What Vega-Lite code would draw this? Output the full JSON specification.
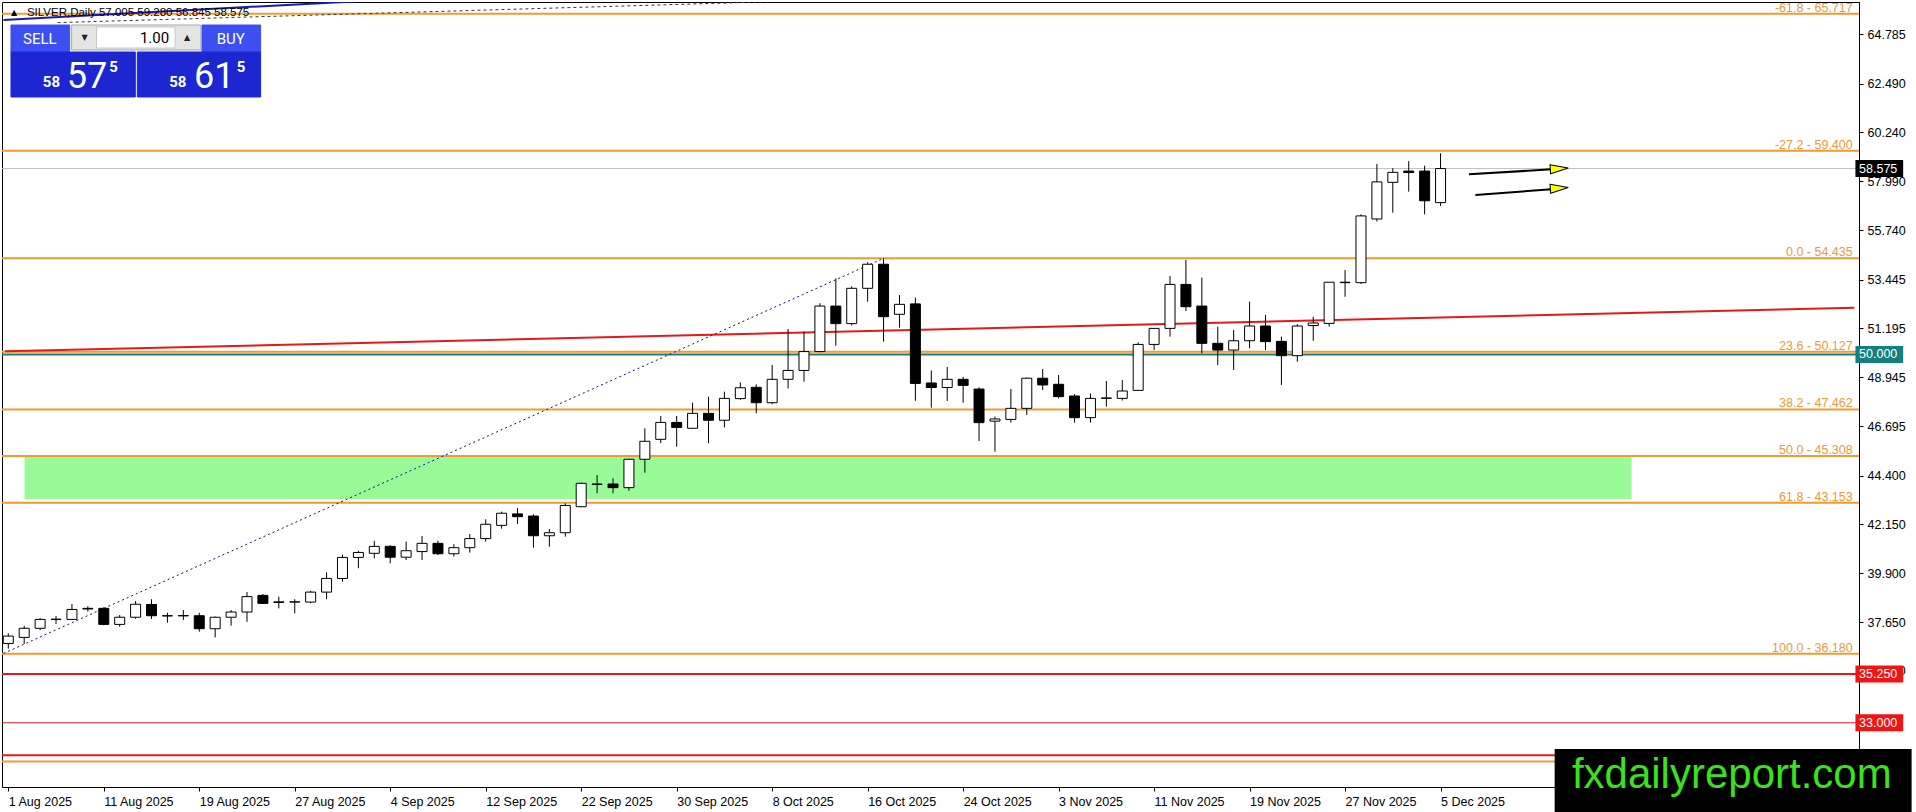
{
  "$schema": "https://vega.github.io/schema/vega-lite/v6.json",
  "width": 1857,
  "height": 785,
  "autosize": "none",
  "padding": {"left": 2, "top": 2, "right": 57, "bottom": 25},
  "background": "white",
  "config": {
    "view": {"stroke": "black", "strokeWidth": 1},
    "font": "Liberation Sans",
    "axis": {"labelFont": "Liberation Sans", "labelFontSize": 12.5, "labelColor": "black", "domainColor": "black", "tickColor": "black", "grid": false, "title": null}
  },
  "datasets": {
    "bars": [
      {"i":0,"o":36.66,"h":37.13,"l":36.43,"c":37.0},
      {"i":1,"o":36.94,"h":37.47,"l":36.64,"c":37.36},
      {"i":2,"o":37.36,"h":37.83,"l":37.28,"c":37.77},
      {"i":3,"o":37.77,"h":37.93,"l":37.56,"c":37.78},
      {"i":4,"o":37.77,"h":38.48,"l":37.74,"c":38.23},
      {"i":5,"o":38.28,"h":38.38,"l":38.13,"c":38.25},
      {"i":6,"o":38.28,"h":38.33,"l":37.5,"c":37.54},
      {"i":7,"o":37.54,"h":37.97,"l":37.43,"c":37.87},
      {"i":8,"o":37.87,"h":38.62,"l":37.8,"c":38.47},
      {"i":9,"o":38.46,"h":38.7,"l":37.79,"c":37.94},
      {"i":10,"o":37.94,"h":38.08,"l":37.62,"c":37.93},
      {"i":11,"o":37.93,"h":38.2,"l":37.74,"c":37.95},
      {"i":12,"o":37.94,"h":38.08,"l":37.2,"c":37.34},
      {"i":13,"o":37.34,"h":37.9,"l":36.94,"c":37.87},
      {"i":14,"o":37.87,"h":38.2,"l":37.48,"c":38.11},
      {"i":15,"o":38.11,"h":39.03,"l":37.66,"c":38.82},
      {"i":16,"o":38.88,"h":38.94,"l":38.48,"c":38.51},
      {"i":17,"o":38.58,"h":38.82,"l":38.28,"c":38.55},
      {"i":18,"o":38.57,"h":38.7,"l":38.05,"c":38.58},
      {"i":19,"o":38.57,"h":39.09,"l":38.51,"c":39.03},
      {"i":20,"o":39.03,"h":39.94,"l":38.7,"c":39.66},
      {"i":21,"o":39.66,"h":40.76,"l":39.51,"c":40.63},
      {"i":22,"o":40.63,"h":40.94,"l":40.13,"c":40.86},
      {"i":23,"o":40.82,"h":41.4,"l":40.59,"c":41.14},
      {"i":24,"o":41.14,"h":41.2,"l":40.36,"c":40.64},
      {"i":25,"o":40.64,"h":41.36,"l":40.51,"c":40.94},
      {"i":26,"o":40.9,"h":41.62,"l":40.51,"c":41.28},
      {"i":27,"o":41.28,"h":41.4,"l":40.74,"c":40.8},
      {"i":28,"o":40.8,"h":41.24,"l":40.67,"c":41.08},
      {"i":29,"o":41.08,"h":41.71,"l":40.85,"c":41.5},
      {"i":30,"o":41.5,"h":42.39,"l":41.36,"c":42.16},
      {"i":31,"o":42.11,"h":42.74,"l":41.96,"c":42.67},
      {"i":32,"o":42.64,"h":42.91,"l":42.17,"c":42.51},
      {"i":33,"o":42.54,"h":42.62,"l":41.08,"c":41.63},
      {"i":34,"o":41.63,"h":41.94,"l":41.13,"c":41.77},
      {"i":35,"o":41.77,"h":43.13,"l":41.59,"c":43.03},
      {"i":36,"o":42.97,"h":44.08,"l":42.95,"c":44.05},
      {"i":37,"o":44.0,"h":44.43,"l":43.59,"c":44.02},
      {"i":38,"o":44.02,"h":44.28,"l":43.59,"c":43.85},
      {"i":39,"o":43.85,"h":45.18,"l":43.71,"c":45.16},
      {"i":40,"o":45.16,"h":46.59,"l":44.54,"c":45.99},
      {"i":41,"o":46.08,"h":47.16,"l":45.9,"c":46.86},
      {"i":42,"o":46.86,"h":47.16,"l":45.74,"c":46.63},
      {"i":43,"o":46.59,"h":47.77,"l":46.59,"c":47.28},
      {"i":44,"o":47.28,"h":48.05,"l":45.9,"c":46.96},
      {"i":45,"o":46.96,"h":48.28,"l":46.63,"c":47.97},
      {"i":46,"o":47.96,"h":48.71,"l":47.9,"c":48.46},
      {"i":47,"o":48.48,"h":48.62,"l":47.28,"c":47.77},
      {"i":48,"o":47.77,"h":49.51,"l":47.7,"c":48.85},
      {"i":49,"o":48.85,"h":51.17,"l":48.43,"c":49.26},
      {"i":50,"o":49.26,"h":51.05,"l":48.74,"c":50.13},
      {"i":51,"o":50.13,"h":52.36,"l":50.1,"c":52.23},
      {"i":52,"o":52.23,"h":53.51,"l":50.4,"c":51.42},
      {"i":53,"o":51.42,"h":53.14,"l":51.33,"c":53.05},
      {"i":54,"o":53.05,"h":54.25,"l":52.43,"c":54.16},
      {"i":55,"o":54.16,"h":54.435,"l":50.59,"c":51.74},
      {"i":56,"o":51.85,"h":52.74,"l":51.23,"c":52.31},
      {"i":57,"o":52.33,"h":52.62,"l":47.86,"c":48.66},
      {"i":58,"o":48.68,"h":49.26,"l":47.54,"c":48.47},
      {"i":59,"o":48.47,"h":49.42,"l":47.85,"c":48.85},
      {"i":60,"o":48.85,"h":48.96,"l":47.77,"c":48.57},
      {"i":61,"o":48.4,"h":48.48,"l":46.0,"c":46.85},
      {"i":62,"o":46.92,"h":47.13,"l":45.51,"c":47.02},
      {"i":63,"o":47.0,"h":48.4,"l":46.85,"c":47.51},
      {"i":64,"o":47.51,"h":48.93,"l":47.2,"c":48.9},
      {"i":65,"o":48.9,"h":49.33,"l":48.36,"c":48.59},
      {"i":66,"o":48.62,"h":49.05,"l":47.97,"c":48.05},
      {"i":67,"o":48.08,"h":48.17,"l":46.85,"c":47.08},
      {"i":68,"o":47.08,"h":48.2,"l":46.85,"c":47.97},
      {"i":69,"o":47.97,"h":48.77,"l":47.59,"c":47.99},
      {"i":70,"o":47.97,"h":48.82,"l":47.87,"c":48.31},
      {"i":71,"o":48.34,"h":50.56,"l":48.33,"c":50.46},
      {"i":72,"o":50.46,"h":51.2,"l":50.2,"c":51.2},
      {"i":73,"o":51.2,"h":53.62,"l":50.82,"c":53.23},
      {"i":74,"o":53.23,"h":54.36,"l":52.0,"c":52.2},
      {"i":75,"o":52.23,"h":53.54,"l":50.05,"c":50.51},
      {"i":76,"o":50.51,"h":51.28,"l":49.51,"c":50.2},
      {"i":77,"o":50.2,"h":51.13,"l":49.28,"c":50.63},
      {"i":78,"o":50.63,"h":52.43,"l":50.28,"c":51.31},
      {"i":79,"o":51.31,"h":51.82,"l":50.2,"c":50.59},
      {"i":80,"o":50.6,"h":50.82,"l":48.59,"c":49.94},
      {"i":81,"o":49.94,"h":51.4,"l":49.66,"c":51.31},
      {"i":82,"o":51.33,"h":51.74,"l":50.63,"c":51.45},
      {"i":83,"o":51.43,"h":53.33,"l":51.28,"c":53.33},
      {"i":84,"o":53.31,"h":53.89,"l":52.66,"c":53.33},
      {"i":85,"o":53.31,"h":56.46,"l":53.25,"c":56.39},
      {"i":86,"o":56.25,"h":58.79,"l":56.13,"c":57.96},
      {"i":87,"o":57.94,"h":58.59,"l":56.54,"c":58.4},
      {"i":88,"o":58.46,"h":58.92,"l":57.51,"c":58.39},
      {"i":89,"o":58.46,"h":58.71,"l":56.46,"c":57.09},
      {"i":90,"o":57.005,"h":59.28,"l":56.845,"c":58.575}
    ],
    "fib": [
      {"p":65.717,"t":"-61.8 - 65.717"},
      {"p":59.4,"t":"-27.2 - 59.400"},
      {"p":54.435,"t":"0.0 - 54.435"},
      {"p":50.127,"t":"23.6 - 50.127"},
      {"p":47.462,"t":"38.2 - 47.462"},
      {"p":45.308,"t":"50.0 - 45.308"},
      {"p":43.153,"t":"61.8 - 43.153"},
      {"p":36.18,"t":"100.0 - 36.180"}
    ],
    "tags": [
      {"p":58.575,"t":"58.575","k":"cur"},
      {"p":50.0,"t":"50.000","k":"teal"},
      {"p":35.25,"t":"35.250","k":"red"},
      {"p":33.0,"t":"33.000","k":"red"}
    ],
    "panel": [
      {"a":0.169,"b":3.856,"lo":63.954,"hi":65.2,"part":"btn"},
      {"a":12.169,"b":15.856,"lo":63.954,"hi":65.2,"part":"btn"},
      {"a":3.981,"b":12.106,"lo":64.047,"hi":65.2,"part":"ctrl"},
      {"a":5.544,"b":10.481,"lo":64.139,"hi":65.108,"part":"field"},
      {"a":0.169,"b":7.981,"lo":61.878,"hi":63.954,"part":"price"},
      {"a":8.106,"b":15.856,"lo":61.878,"hi":63.954,"part":"price"}
    ]
  },
  "layer": [
    {
      "data": {"name": "bars"},
      "mark": {"type": "rule", "color": "black", "strokeWidth": 1, "opacity": 0},
      "encoding": {
        "x": {
          "field": "i", "type": "quantitative",
          "scale": {"domain": [-0.081, 115.98]},
          "axis": {
            "orient": "bottom",
            "values": [0, 6, 12, 18, 24, 30, 36, 42, 48, 54, 60, 66, 72, 78, 84, 90],
            "labelExpr": "['1 Aug 2025','11 Aug 2025','19 Aug 2025','27 Aug 2025','4 Sep 2025','12 Sep 2025','22 Sep 2025','30 Sep 2025','8 Oct 2025','16 Oct 2025','24 Oct 2025','3 Nov 2025','11 Nov 2025','19 Nov 2025','27 Nov 2025','5 Dec 2025'][datum.value / 6]",
            "labelAlign": "left",
            "labelBaseline": "top",
            "labelPadding": 4,
            "tickSize": 4,
            "labelFlush": false,
            "labelOverlap": false
          }
        },
        "y": {
          "field": "l", "type": "quantitative",
          "scale": {"domain": [30.036, 66.262]},
          "axis": {
            "orient": "right",
            "values": [64.785, 62.49, 60.24, 57.99, 55.74, 53.445, 51.195, 48.945, 46.695, 44.4, 42.15, 39.9, 37.65, 35.4],
            "format": ".3f",
            "tickSize": 4,
            "labelPadding": 4,
            "labelAlign": "left",
            "labelBaseline": "middle",
            "labelOverlap": false,
            "labelFlush": false
          }
        },
        "y2": {"field": "h"}
      }
    },
    {
      "data": {"values": [{"a":1.02,"b":102.0,"lo":43.33,"hi":45.29}]},
      "mark": {"type": "rect", "color": "#98FB98"},
      "encoding": {
        "x": {"field": "a", "type": "quantitative", "scale": {"domain": [-0.081, 115.98]}},
        "x2": {"field": "b"},
        "y": {"field": "lo", "type": "quantitative", "scale": {"domain": [30.036, 66.262]}},
        "y2": {"field": "hi"}
      }
    },
    {
      "data": {"values": [{"p":65.717},{"p":59.4},{"p":54.435},{"p":50.127},{"p":47.462},{"p":45.308},{"p":43.153},{"p":36.18},{"p":31.215}]},
      "mark": {"type": "rule", "color": "#F29A2E", "strokeWidth": 2},
      "encoding": {
        "y": {"field": "p", "type": "quantitative", "scale": {"domain": [30.036, 66.262]}}
      }
    },
    {
      "data": {"values": [{"p":35.25},{"p":31.5}]},
      "mark": {"type": "rule", "color": "#E21C1C", "strokeWidth": 2},
      "encoding": {"y": {"field": "p", "type": "quantitative", "scale": {"domain": [30.036, 66.262]}}}
    },
    {
      "data": {"values": [{"p":33.0}]},
      "mark": {"type": "rule", "color": "#D42222", "strokeWidth": 1},
      "encoding": {"y": {"field": "p", "type": "quantitative", "scale": {"domain": [30.036, 66.262]}}}
    },
    {
      "data": {"values": [{"p":50.0}]},
      "mark": {"type": "rule", "color": "#1E7C7C", "strokeWidth": 2},
      "encoding": {"y": {"field": "p", "type": "quantitative", "scale": {"domain": [30.036, 66.262]}}}
    },
    {
      "data": {"values": [{"p":58.575}]},
      "mark": {"type": "rule", "color": "#C0C0C0", "strokeWidth": 1},
      "encoding": {"y": {"field": "p", "type": "quantitative", "scale": {"domain": [30.036, 66.262]}}}
    },
    {
      "data": {"values": [{"x":-0.2,"y":50.14},{"x":116.0,"y":52.15}]},
      "mark": {"type": "line", "color": "#E31A1A", "strokeWidth": 2, "clip": true},
      "encoding": {
        "x": {"field": "x", "type": "quantitative", "scale": {"domain": [-0.081, 115.98]}},
        "y": {"field": "y", "type": "quantitative", "scale": {"domain": [30.036, 66.262]}}
      }
    },
    {
      "data": {"values": [{"x":-0.3,"y":36.2},{"x":55,"y":54.435}]},
      "mark": {"type": "line", "color": "#10108A", "strokeWidth": 1, "strokeDash": [2, 3], "clip": true},
      "encoding": {
        "x": {"field": "x", "type": "quantitative", "scale": {"domain": [-0.081, 115.98]}},
        "y": {"field": "y", "type": "quantitative", "scale": {"domain": [30.036, 66.262]}}
      }
    },
    {
      "data": {"values": [{"x":3.1,"y":65.31},{"x":49.0,"y":66.3}]},
      "mark": {"type": "line", "color": "#333333", "strokeWidth": 1, "strokeDash": [3, 3], "clip": true},
      "encoding": {
        "x": {"field": "x", "type": "quantitative", "scale": {"domain": [-0.081, 115.98]}},
        "y": {"field": "y", "type": "quantitative", "scale": {"domain": [30.036, 66.262]}}
      }
    },
    {
      "data": {"values": [{"x":-0.3,"y":65.43},{"x":22.0,"y":66.3}]},
      "mark": {"type": "line", "color": "#1A1AB0", "strokeWidth": 2, "clip": true},
      "encoding": {
        "x": {"field": "x", "type": "quantitative", "scale": {"domain": [-0.081, 115.98]}},
        "y": {"field": "y", "type": "quantitative", "scale": {"domain": [30.036, 66.262]}}
      }
    },
    {
      "data": {"name": "bars"},
      "mark": {"type": "rule", "color": "black", "strokeWidth": 1},
      "encoding": {
        "x": {"field": "i", "type": "quantitative", "scale": {"domain": [-0.081, 115.98]}},
        "y": {"field": "l", "type": "quantitative", "scale": {"domain": [30.036, 66.262]}},
        "y2": {"field": "h"}
      }
    },
    {
      "data": {"name": "bars"},
      "mark": {"type": "bar", "width": 10, "stroke": "black", "strokeWidth": 1, "orient": "vertical"},
      "encoding": {
        "x": {"field": "i", "type": "quantitative", "scale": {"domain": [-0.081, 115.98]}},
        "y": {"field": "o", "type": "quantitative", "scale": {"domain": [30.036, 66.262]}},
        "y2": {"field": "c"},
        "fill": {"condition": {"test": "datum.c >= datum.o", "value": "white"}, "value": "black"}
      }
    },
    {
      "data": {"name": "fib"},
      "mark": {"type": "text", "align": "right", "baseline": "alphabetic", "dy": -2, "fontSize": 12.5, "color": "#EB9A3A"},
      "encoding": {
        "x": {"datum": 115.9, "type": "quantitative", "scale": {"domain": [-0.081, 115.98]}},
        "y": {"field": "p", "type": "quantitative", "scale": {"domain": [30.036, 66.262]}},
        "text": {"field": "t"}
      }
    },
    {
      "data": {"values": [{"a":91.78,"b":96.98,"u":58.31,"v":58.54},{"a":92.19,"b":96.98,"u":57.36,"v":57.62}]},
      "mark": {"type": "rule", "color": "black", "strokeWidth": 2},
      "encoding": {
        "x": {"field": "a", "type": "quantitative", "scale": {"domain": [-0.081, 115.98]}},
        "x2": {"field": "b"},
        "y": {"field": "u", "type": "quantitative", "scale": {"domain": [30.036, 66.262]}},
        "y2": {"field": "v"}
      }
    },
    {
      "data": {"values": [{"a":97.46,"u":58.57},{"a":97.46,"u":57.67}]},
      "mark": {"type": "point", "shape": "M-1,-0.5L1,0L-1,0.5Z", "size": 324, "filled": true, "fill": "#FFFF00", "stroke": "black", "strokeWidth": 1, "opacity": 1, "angle": 356},
      "encoding": {
        "x": {"field": "a", "type": "quantitative", "scale": {"domain": [-0.081, 115.98]}},
        "y": {"field": "u", "type": "quantitative", "scale": {"domain": [30.036, 66.262]}}
      }
    },
    {
      "data": {"name": "panel"},
      "mark": {"type": "rect", "strokeWidth": 1},
      "encoding": {
        "x": {"field": "a", "type": "quantitative", "scale": {"domain": [-0.081, 115.98]}},
        "x2": {"field": "b"},
        "y": {"field": "lo", "type": "quantitative", "scale": {"domain": [30.036, 66.262]}},
        "y2": {"field": "hi"},
        "fill": {"condition": [
          {"test": "datum.part == 'btn'", "value": "#3D4FF0"},
          {"test": "datum.part == 'ctrl'", "value": "#E4E4E4"},
          {"test": "datum.part == 'field'", "value": "#FFFFFF"}
        ], "value": "#1C27D2"},
        "stroke": {"condition": [
          {"test": "datum.part == 'btn'", "value": "#3D4FF0"},
          {"test": "datum.part == 'ctrl'", "value": "#A8A8A8"},
          {"test": "datum.part == 'field'", "value": "#C8C8C8"}
        ], "value": "#1C27D2"}
      }
    },
    {
      "data": {"values": [{"x":1.98,"y":64.55,"t":"SELL"},{"x":13.98,"y":64.55,"t":"BUY"}]},
      "mark": {"type": "text", "align": "center", "baseline": "middle", "fontSize": 15, "color": "white", "font": "Roboto"},
      "encoding": {
        "x": {"field": "x", "type": "quantitative", "scale": {"domain": [-0.081, 115.98]}},
        "y": {"field": "y", "type": "quantitative", "scale": {"domain": [30.036, 66.262]}},
        "text": {"field": "t"}
      }
    },
    {
      "data": {"values": [{"x":10.11,"y":64.6,"t":"1.00"}]},
      "mark": {"type": "text", "align": "right", "baseline": "middle", "fontSize": 15, "color": "black", "font": "Roboto"},
      "encoding": {
        "x": {"field": "x", "type": "quantitative", "scale": {"domain": [-0.081, 115.98]}},
        "y": {"field": "y", "type": "quantitative", "scale": {"domain": [30.036, 66.262]}},
        "text": {"field": "t"}
      }
    },
    {
      "data": {"values": [{"x":4.79,"y":64.6,"t":"▼"},{"x":11.23,"y":64.62,"t":"▲"}]},
      "mark": {"type": "text", "align": "center", "baseline": "middle", "fontSize": 8, "color": "#222222", "font": "DejaVu Sans"},
      "encoding": {
        "x": {"field": "x", "type": "quantitative", "scale": {"domain": [-0.081, 115.98]}},
        "y": {"field": "y", "type": "quantitative", "scale": {"domain": [30.036, 66.262]}},
        "text": {"field": "t"}
      }
    },
    {
      "data": {"values": [{"x":2.17,"y":62.34,"t":"58"},{"x":10.11,"y":62.34,"t":"58"}]},
      "mark": {"type": "text", "align": "left", "baseline": "alphabetic", "fontSize": 15, "fontWeight": "bold", "color": "white", "font": "Roboto"},
      "encoding": {
        "x": {"field": "x", "type": "quantitative", "scale": {"domain": [-0.081, 115.98]}},
        "y": {"field": "y", "type": "quantitative", "scale": {"domain": [30.036, 66.262]}},
        "text": {"field": "t"}
      }
    },
    {
      "data": {"values": [{"x":3.67,"y":62.29,"t":"57"},{"x":11.67,"y":62.29,"t":"61"}]},
      "mark": {"type": "text", "align": "left", "baseline": "alphabetic", "fontSize": 36, "color": "white", "font": "Roboto"},
      "encoding": {
        "x": {"field": "x", "type": "quantitative", "scale": {"domain": [-0.081, 115.98]}},
        "y": {"field": "y", "type": "quantitative", "scale": {"domain": [30.036, 66.262]}},
        "text": {"field": "t"}
      }
    },
    {
      "data": {"values": [{"x":6.35,"y":63.03,"t":"5"},{"x":14.35,"y":63.03,"t":"5"}]},
      "mark": {"type": "text", "align": "left", "baseline": "alphabetic", "fontSize": 15, "fontWeight": "bold", "color": "white", "font": "Roboto"},
      "encoding": {
        "x": {"field": "x", "type": "quantitative", "scale": {"domain": [-0.081, 115.98]}},
        "y": {"field": "y", "type": "quantitative", "scale": {"domain": [30.036, 66.262]}},
        "text": {"field": "t"}
      }
    },
    {
      "data": {"values": [{"x":0.36,"y":65.75,"t":"▲"}]},
      "mark": {"type": "text", "align": "center", "baseline": "middle", "fontSize": 8, "color": "black", "font": "DejaVu Sans"},
      "encoding": {
        "x": {"field": "x", "type": "quantitative", "scale": {"domain": [-0.081, 115.98]}},
        "y": {"field": "y", "type": "quantitative", "scale": {"domain": [30.036, 66.262]}},
        "text": {"field": "t"}
      }
    },
    {
      "data": {"values": [{"x":1.17,"y":65.74,"t":"SILVER,Daily  57.005 59.280 56.845 58.575"}]},
      "mark": {"type": "text", "align": "left", "baseline": "middle", "fontSize": 11.5, "color": "black"},
      "encoding": {
        "x": {"field": "x", "type": "quantitative", "scale": {"domain": [-0.081, 115.98]}},
        "y": {"field": "y", "type": "quantitative", "scale": {"domain": [30.036, 66.262]}},
        "text": {"field": "t"}
      }
    },
    {
      "data": {"name": "tags"},
      "mark": {"type": "rect", "height": 17},
      "encoding": {
        "x": {"datum": 116.07, "type": "quantitative", "scale": {"domain": [-0.081, 115.98]}},
        "x2": {"datum": 119.07},
        "y": {"field": "p", "type": "quantitative", "scale": {"domain": [30.036, 66.262]}},
        "fill": {"condition": [
          {"test": "datum.k == 'cur'", "value": "#000000"},
          {"test": "datum.k == 'teal'", "value": "#138080"}
        ], "value": "#F01414"}
      }
    },
    {
      "data": {"name": "tags"},
      "mark": {"type": "text", "align": "left", "baseline": "middle", "fontSize": 12.5, "color": "white"},
      "encoding": {
        "x": {"datum": 116.3, "type": "quantitative", "scale": {"domain": [-0.081, 115.98]}},
        "y": {"field": "p", "type": "quantitative", "scale": {"domain": [30.036, 66.262]}},
        "text": {"field": "t"}
      }
    },
    {
      "data": {"values": [{"a":97.17,"b":119.6,"lo":28.8,"hi":31.79}]},
      "mark": {"type": "rect", "color": "black"},
      "encoding": {
        "x": {"field": "a", "type": "quantitative", "scale": {"domain": [-0.081, 115.98]}},
        "x2": {"field": "b"},
        "y": {"field": "lo", "type": "quantitative", "scale": {"domain": [30.036, 66.262]}},
        "y2": {"field": "hi"}
      }
    },
    {
      "data": {"values": [{"x":108.3,"y":29.99,"t":"fxdailyreport.com"}]},
      "mark": {"type": "text", "align": "center", "baseline": "alphabetic", "fontSize": 42, "color": "#3BE01E", "font": "Liberation Sans"},
      "encoding": {
        "x": {"field": "x", "type": "quantitative", "scale": {"domain": [-0.081, 115.98]}},
        "y": {"field": "y", "type": "quantitative", "scale": {"domain": [30.036, 66.262]}},
        "text": {"field": "t"}
      }
    }
  ]
}
